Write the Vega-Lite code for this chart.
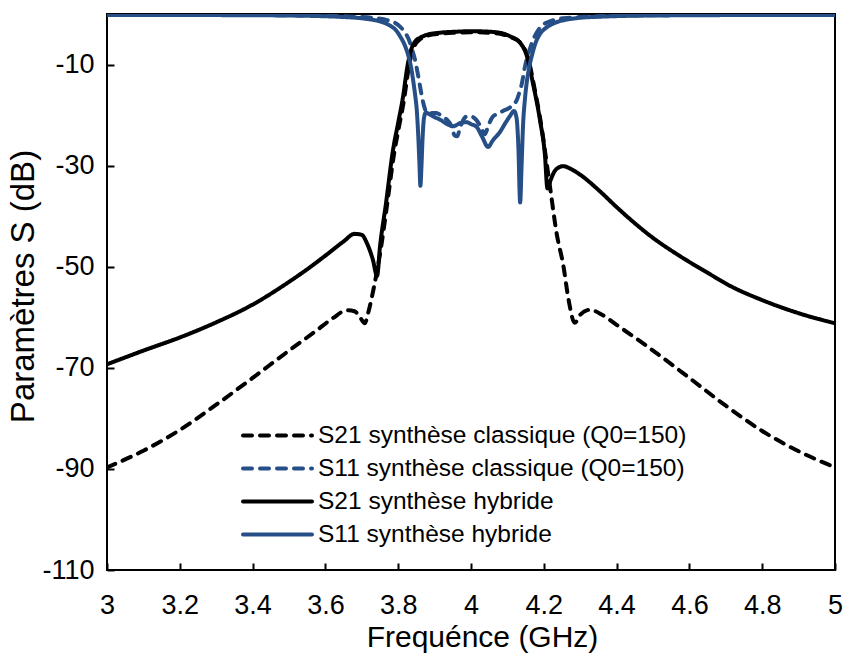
{
  "$schema": "https://vega.github.io/schema/vega-lite/v6.json",
  "width": 728,
  "height": 556,
  "autosize": {"type": "none"},
  "padding": {"left": 107, "top": 14, "right": 11, "bottom": 85},
  "background": "white",
  "config": {
    "font": "Liberation Sans",
    "view": {"stroke": "black", "strokeWidth": 2},
    "axis": {"domain": false, "grid": false, "tickColor": "black", "tickWidth": 2, "tickSize": -7, "labelColor": "black", "titleColor": "black", "titleFontWeight": "normal", "labelFontSize": 27, "titleFontSize": 30, "labelFlush": false, "labelFont": "Liberation Sans", "titleFont": "Liberation Sans"}
  },
  "data": {"values": [
    {"s":"S21 synthèse classique (Q0=150)","f":3.0,"db":-89.7},
    {"s":"S21 synthèse classique (Q0=150)","f":3.1,"db":-86.4},
    {"s":"S21 synthèse classique (Q0=150)","f":3.2,"db":-82.3},
    {"s":"S21 synthèse classique (Q0=150)","f":3.3,"db":-77.3},
    {"s":"S21 synthèse classique (Q0=150)","f":3.4,"db":-72.0},
    {"s":"S21 synthèse classique (Q0=150)","f":3.5,"db":-66.6},
    {"s":"S21 synthèse classique (Q0=150)","f":3.576,"db":-62.6},
    {"s":"S21 synthèse classique (Q0=150)","f":3.62,"db":-60.2},
    {"s":"S21 synthèse classique (Q0=150)","f":3.66,"db":-58.6},
    {"s":"S21 synthèse classique (Q0=150)","f":3.68,"db":-58.8},
    {"s":"S21 synthèse classique (Q0=150)","f":3.695,"db":-60.0},
    {"s":"S21 synthèse classique (Q0=150)","f":3.708,"db":-61.2},
    {"s":"S21 synthèse classique (Q0=150)","f":3.718,"db":-59.0},
    {"s":"S21 synthèse classique (Q0=150)","f":3.732,"db":-54.5},
    {"s":"S21 synthèse classique (Q0=150)","f":3.752,"db":-46.6},
    {"s":"S21 synthèse classique (Q0=150)","f":3.769,"db":-38.0},
    {"s":"S21 synthèse classique (Q0=150)","f":3.789,"db":-27.5},
    {"s":"S21 synthèse classique (Q0=150)","f":3.803,"db":-22.0},
    {"s":"S21 synthèse classique (Q0=150)","f":3.816,"db":-17.0},
    {"s":"S21 synthèse classique (Q0=150)","f":3.828,"db":-11.0},
    {"s":"S21 synthèse classique (Q0=150)","f":3.838,"db":-7.5},
    {"s":"S21 synthèse classique (Q0=150)","f":3.849,"db":-5.8},
    {"s":"S21 synthèse classique (Q0=150)","f":3.862,"db":-4.9},
    {"s":"S21 synthèse classique (Q0=150)","f":3.88,"db":-4.3},
    {"s":"S21 synthèse classique (Q0=150)","f":3.915,"db":-3.9},
    {"s":"S21 synthèse classique (Q0=150)","f":3.96,"db":-3.7},
    {"s":"S21 synthèse classique (Q0=150)","f":4.0,"db":-3.6},
    {"s":"S21 synthèse classique (Q0=150)","f":4.05,"db":-3.7},
    {"s":"S21 synthèse classique (Q0=150)","f":4.09,"db":-4.1},
    {"s":"S21 synthèse classique (Q0=150)","f":4.11,"db":-4.6},
    {"s":"S21 synthèse classique (Q0=150)","f":4.138,"db":-5.9},
    {"s":"S21 synthèse classique (Q0=150)","f":4.156,"db":-8.5},
    {"s":"S21 synthèse classique (Q0=150)","f":4.174,"db":-14.5},
    {"s":"S21 synthèse classique (Q0=150)","f":4.193,"db":-22.0},
    {"s":"S21 synthèse classique (Q0=150)","f":4.206,"db":-28.5},
    {"s":"S21 synthèse classique (Q0=150)","f":4.218,"db":-34.7},
    {"s":"S21 synthèse classique (Q0=150)","f":4.235,"db":-43.3},
    {"s":"S21 synthèse classique (Q0=150)","f":4.254,"db":-49.9},
    {"s":"S21 synthèse classique (Q0=150)","f":4.268,"db":-56.5},
    {"s":"S21 synthèse classique (Q0=150)","f":4.285,"db":-61.1},
    {"s":"S21 synthèse classique (Q0=150)","f":4.3,"db":-59.5},
    {"s":"S21 synthèse classique (Q0=150)","f":4.327,"db":-58.5},
    {"s":"S21 synthèse classique (Q0=150)","f":4.36,"db":-59.5},
    {"s":"S21 synthèse classique (Q0=150)","f":4.4,"db":-61.5},
    {"s":"S21 synthèse classique (Q0=150)","f":4.483,"db":-65.7},
    {"s":"S21 synthèse classique (Q0=150)","f":4.6,"db":-72.0},
    {"s":"S21 synthèse classique (Q0=150)","f":4.7,"db":-77.5},
    {"s":"S21 synthèse classique (Q0=150)","f":4.8,"db":-82.5},
    {"s":"S21 synthèse classique (Q0=150)","f":4.9,"db":-86.5},
    {"s":"S21 synthèse classique (Q0=150)","f":5.0,"db":-89.7},

    {"s":"S11 synthèse classique (Q0=150)","f":3.0,"db":-0.15},
    {"s":"S11 synthèse classique (Q0=150)","f":3.2,"db":-0.17},
    {"s":"S11 synthèse classique (Q0=150)","f":3.4,"db":-0.2},
    {"s":"S11 synthèse classique (Q0=150)","f":3.5,"db":-0.25},
    {"s":"S11 synthèse classique (Q0=150)","f":3.6,"db":-0.35},
    {"s":"S11 synthèse classique (Q0=150)","f":3.65,"db":-0.45},
    {"s":"S11 synthèse classique (Q0=150)","f":3.7,"db":-0.6},
    {"s":"S11 synthèse classique (Q0=150)","f":3.74,"db":-0.85},
    {"s":"S11 synthèse classique (Q0=150)","f":3.77,"db":-1.2},
    {"s":"S11 synthèse classique (Q0=150)","f":3.79,"db":-1.7},
    {"s":"S11 synthèse classique (Q0=150)","f":3.805,"db":-2.5},
    {"s":"S11 synthèse classique (Q0=150)","f":3.819,"db":-3.7},
    {"s":"S11 synthèse classique (Q0=150)","f":3.83,"db":-5.2},
    {"s":"S11 synthèse classique (Q0=150)","f":3.838,"db":-7.0},
    {"s":"S11 synthèse classique (Q0=150)","f":3.846,"db":-9.0},
    {"s":"S11 synthèse classique (Q0=150)","f":3.853,"db":-11.5},
    {"s":"S11 synthèse classique (Q0=150)","f":3.86,"db":-14.3},
    {"s":"S11 synthèse classique (Q0=150)","f":3.867,"db":-17.0},
    {"s":"S11 synthèse classique (Q0=150)","f":3.874,"db":-18.9},
    {"s":"S11 synthèse classique (Q0=150)","f":3.882,"db":-19.8},
    {"s":"S11 synthèse classique (Q0=150)","f":3.893,"db":-19.6},
    {"s":"S11 synthèse classique (Q0=150)","f":3.905,"db":-19.6},
    {"s":"S11 synthèse classique (Q0=150)","f":3.92,"db":-20.2},
    {"s":"S11 synthèse classique (Q0=150)","f":3.935,"db":-21.0},
    {"s":"S11 synthèse classique (Q0=150)","f":3.945,"db":-22.0},
    {"s":"S11 synthèse classique (Q0=150)","f":3.955,"db":-24.0},
    {"s":"S11 synthèse classique (Q0=150)","f":3.962,"db":-24.2},
    {"s":"S11 synthèse classique (Q0=150)","f":3.97,"db":-22.5},
    {"s":"S11 synthèse classique (Q0=150)","f":3.98,"db":-20.8},
    {"s":"S11 synthèse classique (Q0=150)","f":3.99,"db":-20.2},
    {"s":"S11 synthèse classique (Q0=150)","f":4.002,"db":-20.3},
    {"s":"S11 synthèse classique (Q0=150)","f":4.015,"db":-21.0},
    {"s":"S11 synthèse classique (Q0=150)","f":4.028,"db":-22.5},
    {"s":"S11 synthèse classique (Q0=150)","f":4.038,"db":-23.8},
    {"s":"S11 synthèse classique (Q0=150)","f":4.048,"db":-22.0},
    {"s":"S11 synthèse classique (Q0=150)","f":4.06,"db":-20.3},
    {"s":"S11 synthèse classique (Q0=150)","f":4.075,"db":-19.7},
    {"s":"S11 synthèse classique (Q0=150)","f":4.09,"db":-19.1},
    {"s":"S11 synthèse classique (Q0=150)","f":4.105,"db":-18.6},
    {"s":"S11 synthèse classique (Q0=150)","f":4.118,"db":-17.8},
    {"s":"S11 synthèse classique (Q0=150)","f":4.126,"db":-17.0},
    {"s":"S11 synthèse classique (Q0=150)","f":4.133,"db":-15.5},
    {"s":"S11 synthèse classique (Q0=150)","f":4.139,"db":-14.0},
    {"s":"S11 synthèse classique (Q0=150)","f":4.148,"db":-10.5},
    {"s":"S11 synthèse classique (Q0=150)","f":4.157,"db":-8.0},
    {"s":"S11 synthèse classique (Q0=150)","f":4.167,"db":-5.8},
    {"s":"S11 synthèse classique (Q0=150)","f":4.178,"db":-4.0},
    {"s":"S11 synthèse classique (Q0=150)","f":4.19,"db":-2.7},
    {"s":"S11 synthèse classique (Q0=150)","f":4.2,"db":-2.0},
    {"s":"S11 synthèse classique (Q0=150)","f":4.215,"db":-1.5},
    {"s":"S11 synthèse classique (Q0=150)","f":4.24,"db":-1.0},
    {"s":"S11 synthèse classique (Q0=150)","f":4.27,"db":-0.75},
    {"s":"S11 synthèse classique (Q0=150)","f":4.3,"db":-0.6},
    {"s":"S11 synthèse classique (Q0=150)","f":4.35,"db":-0.45},
    {"s":"S11 synthèse classique (Q0=150)","f":4.4,"db":-0.35},
    {"s":"S11 synthèse classique (Q0=150)","f":4.5,"db":-0.25},
    {"s":"S11 synthèse classique (Q0=150)","f":4.6,"db":-0.2},
    {"s":"S11 synthèse classique (Q0=150)","f":4.8,"db":-0.17},
    {"s":"S11 synthèse classique (Q0=150)","f":5.0,"db":-0.15},

    {"s":"S21 synthèse hybride","f":3.0,"db":-69.3},
    {"s":"S21 synthèse hybride","f":3.1,"db":-66.6},
    {"s":"S21 synthèse hybride","f":3.2,"db":-64.0},
    {"s":"S21 synthèse hybride","f":3.3,"db":-61.0},
    {"s":"S21 synthèse hybride","f":3.4,"db":-57.5},
    {"s":"S21 synthèse hybride","f":3.5,"db":-53.0},
    {"s":"S21 synthèse hybride","f":3.55,"db":-50.5},
    {"s":"S21 synthèse hybride","f":3.6,"db":-47.8},
    {"s":"S21 synthèse hybride","f":3.65,"db":-45.0},
    {"s":"S21 synthèse hybride","f":3.68,"db":-43.5},
    {"s":"S21 synthèse hybride","f":3.7,"db":-43.7},
    {"s":"S21 synthèse hybride","f":3.715,"db":-45.5},
    {"s":"S21 synthèse hybride","f":3.73,"db":-48.5},
    {"s":"S21 synthèse hybride","f":3.742,"db":-51.8},
    {"s":"S21 synthèse hybride","f":3.75,"db":-46.0},
    {"s":"S21 synthèse hybride","f":3.766,"db":-37.7},
    {"s":"S21 synthèse hybride","f":3.786,"db":-26.8},
    {"s":"S21 synthèse hybride","f":3.8,"db":-21.5},
    {"s":"S21 synthèse hybride","f":3.813,"db":-16.5},
    {"s":"S21 synthèse hybride","f":3.825,"db":-10.5},
    {"s":"S21 synthèse hybride","f":3.835,"db":-7.2},
    {"s":"S21 synthèse hybride","f":3.846,"db":-5.5},
    {"s":"S21 synthèse hybride","f":3.86,"db":-4.7},
    {"s":"S21 synthèse hybride","f":3.88,"db":-4.1},
    {"s":"S21 synthèse hybride","f":3.915,"db":-3.7},
    {"s":"S21 synthèse hybride","f":3.96,"db":-3.5},
    {"s":"S21 synthèse hybride","f":4.0,"db":-3.4},
    {"s":"S21 synthèse hybride","f":4.05,"db":-3.5},
    {"s":"S21 synthèse hybride","f":4.09,"db":-3.9},
    {"s":"S21 synthèse hybride","f":4.107,"db":-4.4},
    {"s":"S21 synthèse hybride","f":4.135,"db":-5.7},
    {"s":"S21 synthèse hybride","f":4.153,"db":-8.2},
    {"s":"S21 synthèse hybride","f":4.171,"db":-14.0},
    {"s":"S21 synthèse hybride","f":4.19,"db":-21.2},
    {"s":"S21 synthèse hybride","f":4.203,"db":-27.8},
    {"s":"S21 synthèse hybride","f":4.21,"db":-34.5},
    {"s":"S21 synthèse hybride","f":4.218,"db":-33.0},
    {"s":"S21 synthèse hybride","f":4.228,"db":-31.3},
    {"s":"S21 synthèse hybride","f":4.24,"db":-30.4},
    {"s":"S21 synthèse hybride","f":4.254,"db":-30.1},
    {"s":"S21 synthèse hybride","f":4.27,"db":-30.5},
    {"s":"S21 synthèse hybride","f":4.3,"db":-31.8},
    {"s":"S21 synthèse hybride","f":4.35,"db":-34.8},
    {"s":"S21 synthèse hybride","f":4.4,"db":-38.2},
    {"s":"S21 synthèse hybride","f":4.45,"db":-41.4},
    {"s":"S21 synthèse hybride","f":4.5,"db":-44.3},
    {"s":"S21 synthèse hybride","f":4.574,"db":-47.9},
    {"s":"S21 synthèse hybride","f":4.65,"db":-51.2},
    {"s":"S21 synthèse hybride","f":4.712,"db":-53.8},
    {"s":"S21 synthèse hybride","f":4.8,"db":-56.6},
    {"s":"S21 synthèse hybride","f":4.9,"db":-59.2},
    {"s":"S21 synthèse hybride","f":5.0,"db":-61.2},

    {"s":"S11 synthèse hybride","f":3.0,"db":-0.18},
    {"s":"S11 synthèse hybride","f":3.2,"db":-0.2},
    {"s":"S11 synthèse hybride","f":3.4,"db":-0.25},
    {"s":"S11 synthèse hybride","f":3.5,"db":-0.3},
    {"s":"S11 synthèse hybride","f":3.6,"db":-0.45},
    {"s":"S11 synthèse hybride","f":3.65,"db":-0.6},
    {"s":"S11 synthèse hybride","f":3.7,"db":-0.85},
    {"s":"S11 synthèse hybride","f":3.73,"db":-1.15},
    {"s":"S11 synthèse hybride","f":3.76,"db":-1.7},
    {"s":"S11 synthèse hybride","f":3.78,"db":-2.4},
    {"s":"S11 synthèse hybride","f":3.795,"db":-3.3},
    {"s":"S11 synthèse hybride","f":3.805,"db":-4.4},
    {"s":"S11 synthèse hybride","f":3.817,"db":-6.0},
    {"s":"S11 synthèse hybride","f":3.828,"db":-8.3},
    {"s":"S11 synthèse hybride","f":3.836,"db":-10.8},
    {"s":"S11 synthèse hybride","f":3.842,"db":-13.6},
    {"s":"S11 synthèse hybride","f":3.847,"db":-16.3},
    {"s":"S11 synthèse hybride","f":3.851,"db":-19.0},
    {"s":"S11 synthèse hybride","f":3.855,"db":-24.0},
    {"s":"S11 synthèse hybride","f":3.858,"db":-29.0},
    {"s":"S11 synthèse hybride","f":3.861,"db":-34.0},
    {"s":"S11 synthèse hybride","f":3.864,"db":-30.0},
    {"s":"S11 synthèse hybride","f":3.867,"db":-24.5},
    {"s":"S11 synthèse hybride","f":3.871,"db":-20.5},
    {"s":"S11 synthèse hybride","f":3.876,"db":-19.5},
    {"s":"S11 synthèse hybride","f":3.885,"db":-19.8},
    {"s":"S11 synthèse hybride","f":3.9,"db":-20.4},
    {"s":"S11 synthèse hybride","f":3.915,"db":-20.9},
    {"s":"S11 synthèse hybride","f":3.935,"db":-21.8},
    {"s":"S11 synthèse hybride","f":3.951,"db":-22.2},
    {"s":"S11 synthèse hybride","f":3.97,"db":-21.6},
    {"s":"S11 synthèse hybride","f":3.988,"db":-21.4},
    {"s":"S11 synthèse hybride","f":4.0,"db":-21.8},
    {"s":"S11 synthèse hybride","f":4.015,"db":-22.3},
    {"s":"S11 synthèse hybride","f":4.03,"db":-24.2},
    {"s":"S11 synthèse hybride","f":4.047,"db":-26.3},
    {"s":"S11 synthèse hybride","f":4.06,"db":-25.0},
    {"s":"S11 synthèse hybride","f":4.08,"db":-23.3},
    {"s":"S11 synthèse hybride","f":4.095,"db":-21.5},
    {"s":"S11 synthèse hybride","f":4.107,"db":-20.2},
    {"s":"S11 synthèse hybride","f":4.118,"db":-19.2},
    {"s":"S11 synthèse hybride","f":4.125,"db":-20.5},
    {"s":"S11 synthèse hybride","f":4.13,"db":-26.0},
    {"s":"S11 synthèse hybride","f":4.135,"db":-37.3},
    {"s":"S11 synthèse hybride","f":4.139,"db":-30.0},
    {"s":"S11 synthèse hybride","f":4.143,"db":-22.0},
    {"s":"S11 synthèse hybride","f":4.148,"db":-17.0},
    {"s":"S11 synthèse hybride","f":4.153,"db":-13.6},
    {"s":"S11 synthèse hybride","f":4.16,"db":-10.5},
    {"s":"S11 synthèse hybride","f":4.167,"db":-8.3},
    {"s":"S11 synthèse hybride","f":4.178,"db":-5.6},
    {"s":"S11 synthèse hybride","f":4.19,"db":-3.9},
    {"s":"S11 synthèse hybride","f":4.205,"db":-2.8},
    {"s":"S11 synthèse hybride","f":4.22,"db":-2.1},
    {"s":"S11 synthèse hybride","f":4.24,"db":-1.5},
    {"s":"S11 synthèse hybride","f":4.26,"db":-1.15},
    {"s":"S11 synthèse hybride","f":4.3,"db":-0.75},
    {"s":"S11 synthèse hybride","f":4.35,"db":-0.55},
    {"s":"S11 synthèse hybride","f":4.4,"db":-0.42},
    {"s":"S11 synthèse hybride","f":4.5,"db":-0.3},
    {"s":"S11 synthèse hybride","f":4.6,"db":-0.25},
    {"s":"S11 synthèse hybride","f":4.8,"db":-0.2},
    {"s":"S11 synthèse hybride","f":5.0,"db":-0.18}
  ]},
  "mark": {"type": "line", "strokeWidth": 4, "strokeCap": "round", "strokeJoin": "round", "clip": true, "interpolate": "monotone"},
  "encoding": {
    "x": {"field": "f", "type": "quantitative",
      "scale": {"domain": [3, 5], "nice": false, "zero": false},
      "axis": {"title": "Frequénce (GHz)", "values": [3, 3.2, 3.4, 3.6, 3.8, 4, 4.2, 4.4, 4.6, 4.8, 5], "format": "~g", "labelPadding": 29, "titleX": 375, "titleY": 67, "titleAlign": "center", "titleBaseline": "middle"}},
    "y": {"field": "db", "type": "quantitative",
      "scale": {"domain": [-110, 0], "nice": false, "zero": false},
      "axis": {"title": "Paramètres S (dB)", "values": [-110, -90, -70, -50, -30, -10], "labelExpr": "toString(datum.value)", "labelPadding": 20, "titleX": -84, "titleY": 272, "titleAlign": "center", "titleBaseline": "middle", "titleAngle": -90, "titleFontSize": 33}},
    "color": {"field": "s", "type": "nominal",
      "scale": {"domain": ["S21 synthèse classique (Q0=150)", "S11 synthèse classique (Q0=150)", "S21 synthèse hybride", "S11 synthèse hybride"], "range": ["#000000", "#274f87", "#000000", "#274f87"]},
      "legend": {"title": null, "orient": "none", "legendX": 136, "legendY": 408, "padding": 0, "labelFontSize": 24.5, "labelLimit": 0, "labelColor": "black", "symbolType": "M-3,0H3", "symbolSize": 529, "symbolStrokeWidth": 4, "symbolOffset": 21, "labelOffset": 27, "rowPadding": 8,
        "encode": {"symbols": {"update": {"strokeCap": {"value": "round"}}}}}},
    "strokeDash": {"field": "s", "type": "nominal",
      "scale": {"domain": ["S21 synthèse classique (Q0=150)", "S11 synthèse classique (Q0=150)", "S21 synthèse hybride", "S11 synthèse hybride"], "range": [[9, 8], [9, 8], [1, 0], [1, 0]]},
      "legend": {"title": null, "orient": "none", "legendX": 136, "legendY": 408, "padding": 0, "labelFontSize": 24.5, "labelLimit": 0, "labelColor": "black", "symbolType": "M-3,0H3", "symbolSize": 529, "symbolStrokeWidth": 4, "symbolOffset": 21, "labelOffset": 27, "rowPadding": 8,
        "encode": {"symbols": {"update": {"strokeCap": {"value": "round"}}}}}}
  }
}
